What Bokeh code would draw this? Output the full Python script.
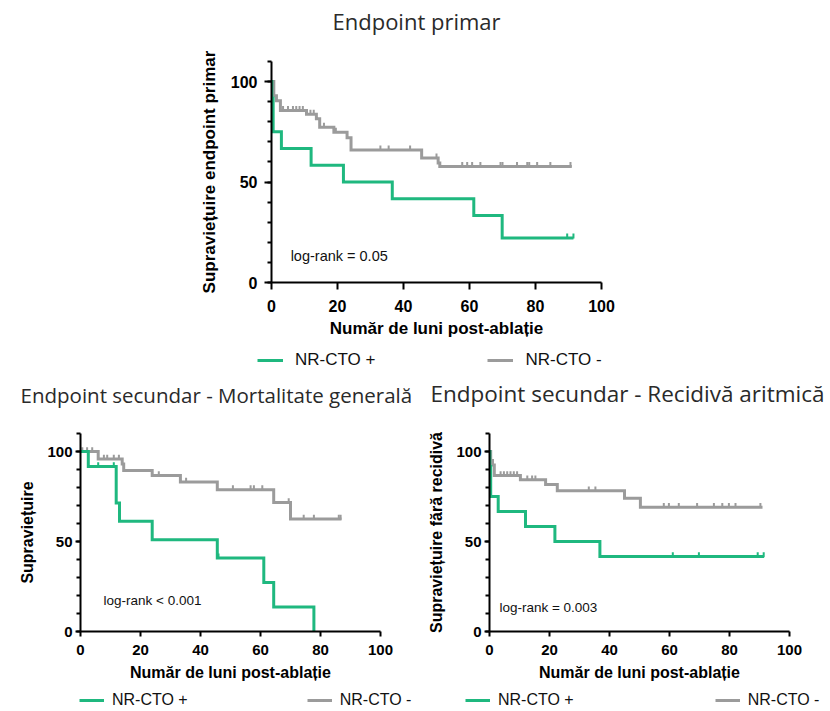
import math
from bokeh.plotting import figure
from bokeh.layouts import column, row
from bokeh.models import Legend, LegendItem, Label, FixedTicker, Title
from bokeh.embed import file_html
from bokeh.resources import INLINE

# ---------------- data ----------------
month_ticks = [0, 20, 40, 60, 80, 100]
surv_ticks = [0, 50, 100]
surv_minor = [0, 10, 20, 30, 40, 50, 60, 70, 80, 90, 100, 110]
series_labels = ["NR-CTO +", "NR-CTO -"]

# Endpoint primar
prim_pos_t = [0, 0.1, 0.5, 3.0, 12.0, 21.8, 36.6, 61.3, 69.9, 91.5]
prim_pos_s = [100, 91.7, 75.0, 66.7, 58.3, 50.0, 41.7, 33.3, 22.2, 22.2]
prim_pos_cens = [89.6, 91.5]
prim_neg_t = [0, 0.7, 1.5, 2.7, 10.6, 13.6, 14.6, 18.9, 22.9, 24.1, 45.5, 50.5, 51.0, 91.0]
prim_neg_s = [100, 93.0, 90.5, 85.6, 83.8, 81.5, 77.3, 74.8, 72.0, 65.9, 62.0, 59.5, 57.7, 57.7]
prim_neg_cens = [3.5, 5.0, 6.5, 7.5, 8.5, 9.5, 11.8, 12.8, 15.9, 19.5, 33.0, 35.5, 42.0,
                 50.0, 57.8, 59.3, 60.8, 63.3, 69.4, 70.0, 74.4, 77.5, 78.1, 80.5, 84.5, 90.6]

# Endpoint secundar - Mortalitate generala
mort_pos_t = [0, 2.6, 11.9, 13.0, 23.9, 45.6, 61.1, 64.4, 77.8]
mort_pos_s = [100, 91.7, 71.4, 61.2, 51.0, 40.9, 27.2, 13.6, 0.0]
mort_pos_cens = [5.9, 11.1, 46.0]
mort_neg_t = [0, 5.9, 13.9, 14.4, 23.9, 33.3, 45.6, 64.4, 70.0, 87.0]
mort_neg_s = [100, 95.8, 93.0, 89.4, 86.7, 83.0, 78.8, 71.6, 62.5, 62.5]
mort_neg_cens = [0.6, 2.2, 3.9, 7.8, 8.9, 11.1, 12.8, 26.1, 35.2, 50.8, 56.7, 57.8, 60.6,
                 69.4, 74.4, 77.8, 86.1, 86.7]

# Endpoint secundar - Recidiva aritmica
rec_pos_t = [0, 0.1, 0.4, 2.9, 12.0, 21.8, 36.8, 91.5]
rec_pos_s = [100, 91.7, 75.0, 66.7, 58.3, 50.0, 41.7, 41.7]
rec_pos_cens = [61.1, 69.8, 89.4, 91.4]
rec_neg_t = [0, 0.4, 1.0, 1.6, 10.3, 18.7, 22.6, 45.0, 50.3, 91.0]
rec_neg_s = [100, 95.0, 92.5, 86.7, 84.3, 81.6, 78.2, 74.0, 69.0, 69.0]
rec_neg_cens = [3.7, 4.8, 5.9, 7.0, 8.1, 9.2, 12.6, 14.2, 15.3, 33.1, 35.3, 58.1, 59.8,
                63.1, 69.2, 74.8, 77.6, 79.8, 82.0, 90.3]

GREEN = "#1FB87F"
GRAY = "#9B9B9B"
FONT = "Liberation Sans"
TFONT = "Open Sans"
TICK_LIFT = 1.0


def surv_at(t, ts, ss):
    v = ss[0]
    for ti, si in zip(ts, ss):
        if ti <= t:
            v = si
    return v


def km_fig(width, height, bl, br, bt, bb, title, t_off, t_size, gap_stand, ylabel,
           pos_t, pos_s, pos_c, neg_t, neg_s, neg_c, note, note_x, note_y, note_fs,
           tick_fs, lab_fs, tick_out, x_tick_stand, y_tick_stand, lab_stand_x, lab_stand_y):
    p = figure(width=width, height=height, x_range=(0, 100), y_range=(0, 110),
               output_backend="svg", toolbar_location=None,
               min_border_left=bl, min_border_right=br,
               min_border_top=bt, min_border_bottom=bb)
    p.title.text = title
    p.title.align = "left"
    p.title.offset = t_off
    p.title.standoff = 0
    p.title.text_font = TFONT
    p.title.text_font_size = t_size
    p.title.text_font_style = "normal"
    p.title.text_color = "#2a2a2a"
    # blank spacer between the title and the plot area
    p.add_layout(Title(text=" ", text_font_size="10px", standoff=gap_stand), "above")
    p.outline_line_color = None
    p.xgrid.visible = False
    p.ygrid.visible = False

    p.xaxis.ticker = FixedTicker(ticks=month_ticks)
    p.yaxis.ticker = FixedTicker(ticks=surv_ticks, minor_ticks=surv_minor)
    xa = p.xaxis[0]
    ya = p.yaxis[0]
    xa.axis_label = "Număr de luni post-ablație"
    ya.axis_label = ylabel
    for ax in (xa, ya):
        ax.axis_line_width = 2
        ax.axis_line_color = "black"
        ax.major_tick_line_width = 2
        ax.major_tick_line_color = "black"
        ax.minor_tick_line_width = 2
        ax.minor_tick_line_color = "black"
        ax.major_tick_in = 0
        ax.major_tick_out = tick_out
        ax.minor_tick_in = 0
        ax.minor_tick_out = 4
        ax.major_label_text_font = FONT
        ax.major_label_text_font_style = "bold"
        ax.major_label_text_font_size = tick_fs
        ax.major_label_text_color = "black"
        ax.axis_label_text_font = FONT
        ax.axis_label_text_font_style = "bold"
        ax.axis_label_text_font_size = lab_fs
        ax.axis_label_text_color = "black"
    xa.minor_tick_line_color = None
    xa.major_label_standoff = x_tick_stand
    ya.major_label_standoff = y_tick_stand
    xa.axis_label_standoff = lab_stand_x
    ya.axis_label_standoff = lab_stand_y

    p.step(x=neg_t, y=neg_s, mode="after", line_width=3, line_color=GRAY, line_join="miter")
    p.scatter(x=neg_c, y=[surv_at(c, neg_t, neg_s) + TICK_LIFT for c in neg_c],
              marker="dash", angle=math.pi / 2, size=5, line_color=GRAY, line_width=2)
    p.step(x=pos_t, y=pos_s, mode="after", line_width=3, line_color=GREEN, line_join="miter")
    p.scatter(x=pos_c, y=[surv_at(c, pos_t, pos_s) + TICK_LIFT for c in pos_c],
              marker="dash", angle=math.pi / 2, size=5, line_color=GREEN, line_width=2)

    p.add_layout(Label(x=note_x, y=note_y, text=note, text_font=FONT,
                       text_font_size=note_fs, text_baseline="middle",
                       text_color="#111111"))
    return p


def legend_fig(width, height, loc, fs, glyph_w, standoff, spacing,
               pos_t, pos_s, pos_c, neg_t, neg_s, neg_c):
    # the series are drawn outside this figure's ranges: only the legend shows
    q = figure(width=width, height=height, x_range=(-20, -10), y_range=(-20, -10),
               x_axis_type=None, y_axis_type=None,
               output_backend="svg", toolbar_location=None,
               min_border_left=0, min_border_right=0, min_border_top=0, min_border_bottom=0)
    q.outline_line_color = None
    q.xgrid.visible = False
    q.ygrid.visible = False
    gl = q.step(x=pos_t, y=pos_s, mode="after", line_width=3, line_color=GREEN)
    gm = q.scatter(x=pos_c, y=[surv_at(c, pos_t, pos_s) for c in pos_c], marker="dash",
                   angle=math.pi / 2, size=7, line_color=GREEN, line_width=2)
    yl = q.step(x=neg_t, y=neg_s, mode="after", line_width=3, line_color=GRAY)
    ym = q.scatter(x=neg_c, y=[surv_at(c, neg_t, neg_s) for c in neg_c], marker="dash",
                   angle=math.pi / 2, size=7, line_color=GRAY, line_width=2)
    leg = Legend(items=[LegendItem(label=series_labels[0], renderers=[gl, gm]),
                        LegendItem(label=series_labels[1], renderers=[yl, ym])],
                 orientation="horizontal", location=loc,
                 padding=0, margin=0, spacing=spacing,
                 glyph_width=glyph_w, glyph_height=18,
                 label_standoff=standoff,
                 label_text_font=FONT, label_text_font_size=fs,
                 label_text_color="#111111",
                 border_line_color=None, background_fill_alpha=0)
    q.add_layout(leg, "center")
    return q


p1 = km_fig(830, 345, 271, 229, 61, 63, "Endpoint primar", 61, "22px", 13,
            "Supraviețuire endpoint primar",
            prim_pos_t, prim_pos_s, prim_pos_cens, prim_neg_t, prim_neg_s, prim_neg_cens,
            "log-rank = 0.05", 5.8, 13.4, "14.5px",
            "16px", "17px", 7, 10, 7, 4, 9)
l1 = legend_fig(830, 30, (257, 5), "17px", 26, 12, 112,
                prim_pos_t, prim_pos_s, prim_pos_cens, prim_neg_t, prim_neg_s, prim_neg_cens)

p2 = km_fig(415, 313, 80, 35, 55, 57, "Endpoint secundar - Mortalitate generală", -60,
            "20.5px", 12, "Supraviețuire",
            mort_pos_t, mort_pos_s, mort_pos_cens, mort_neg_t, mort_neg_s, mort_neg_cens,
            "log-rank < 0.001", 7.7, 17.0, "13.5px",
            "15px", "16px", 5, 8, 3, 6, 8)
l2 = legend_fig(415, 22, (79, 1), "16px", 25, 8, 119,
                mort_pos_t, mort_pos_s, mort_pos_cens, mort_neg_t, mort_neg_s, mort_neg_cens)

p3 = km_fig(415, 313, 74, 41, 55, 57, "Endpoint secundar - Recidivă aritmică", -59,
            "22.5px", 12, "Supraviețuire fără recidivă",
            rec_pos_t, rec_pos_s, rec_pos_cens, rec_neg_t, rec_neg_s, rec_neg_cens,
            "log-rank = 0.003", 3.3, 13.2, "13.5px",
            "15px", "16px", 5, 8, 3, 6, 8)
l3 = legend_fig(415, 22, (50, 1), "16px", 25, 8, 141,
                rec_pos_t, rec_pos_s, rec_pos_cens, rec_neg_t, rec_neg_s, rec_neg_cens)

layout = column(row(p1), row(l1), row(p2, p3), row(l2, l3))
open("out.html", "w").write(file_html(layout, INLINE))
